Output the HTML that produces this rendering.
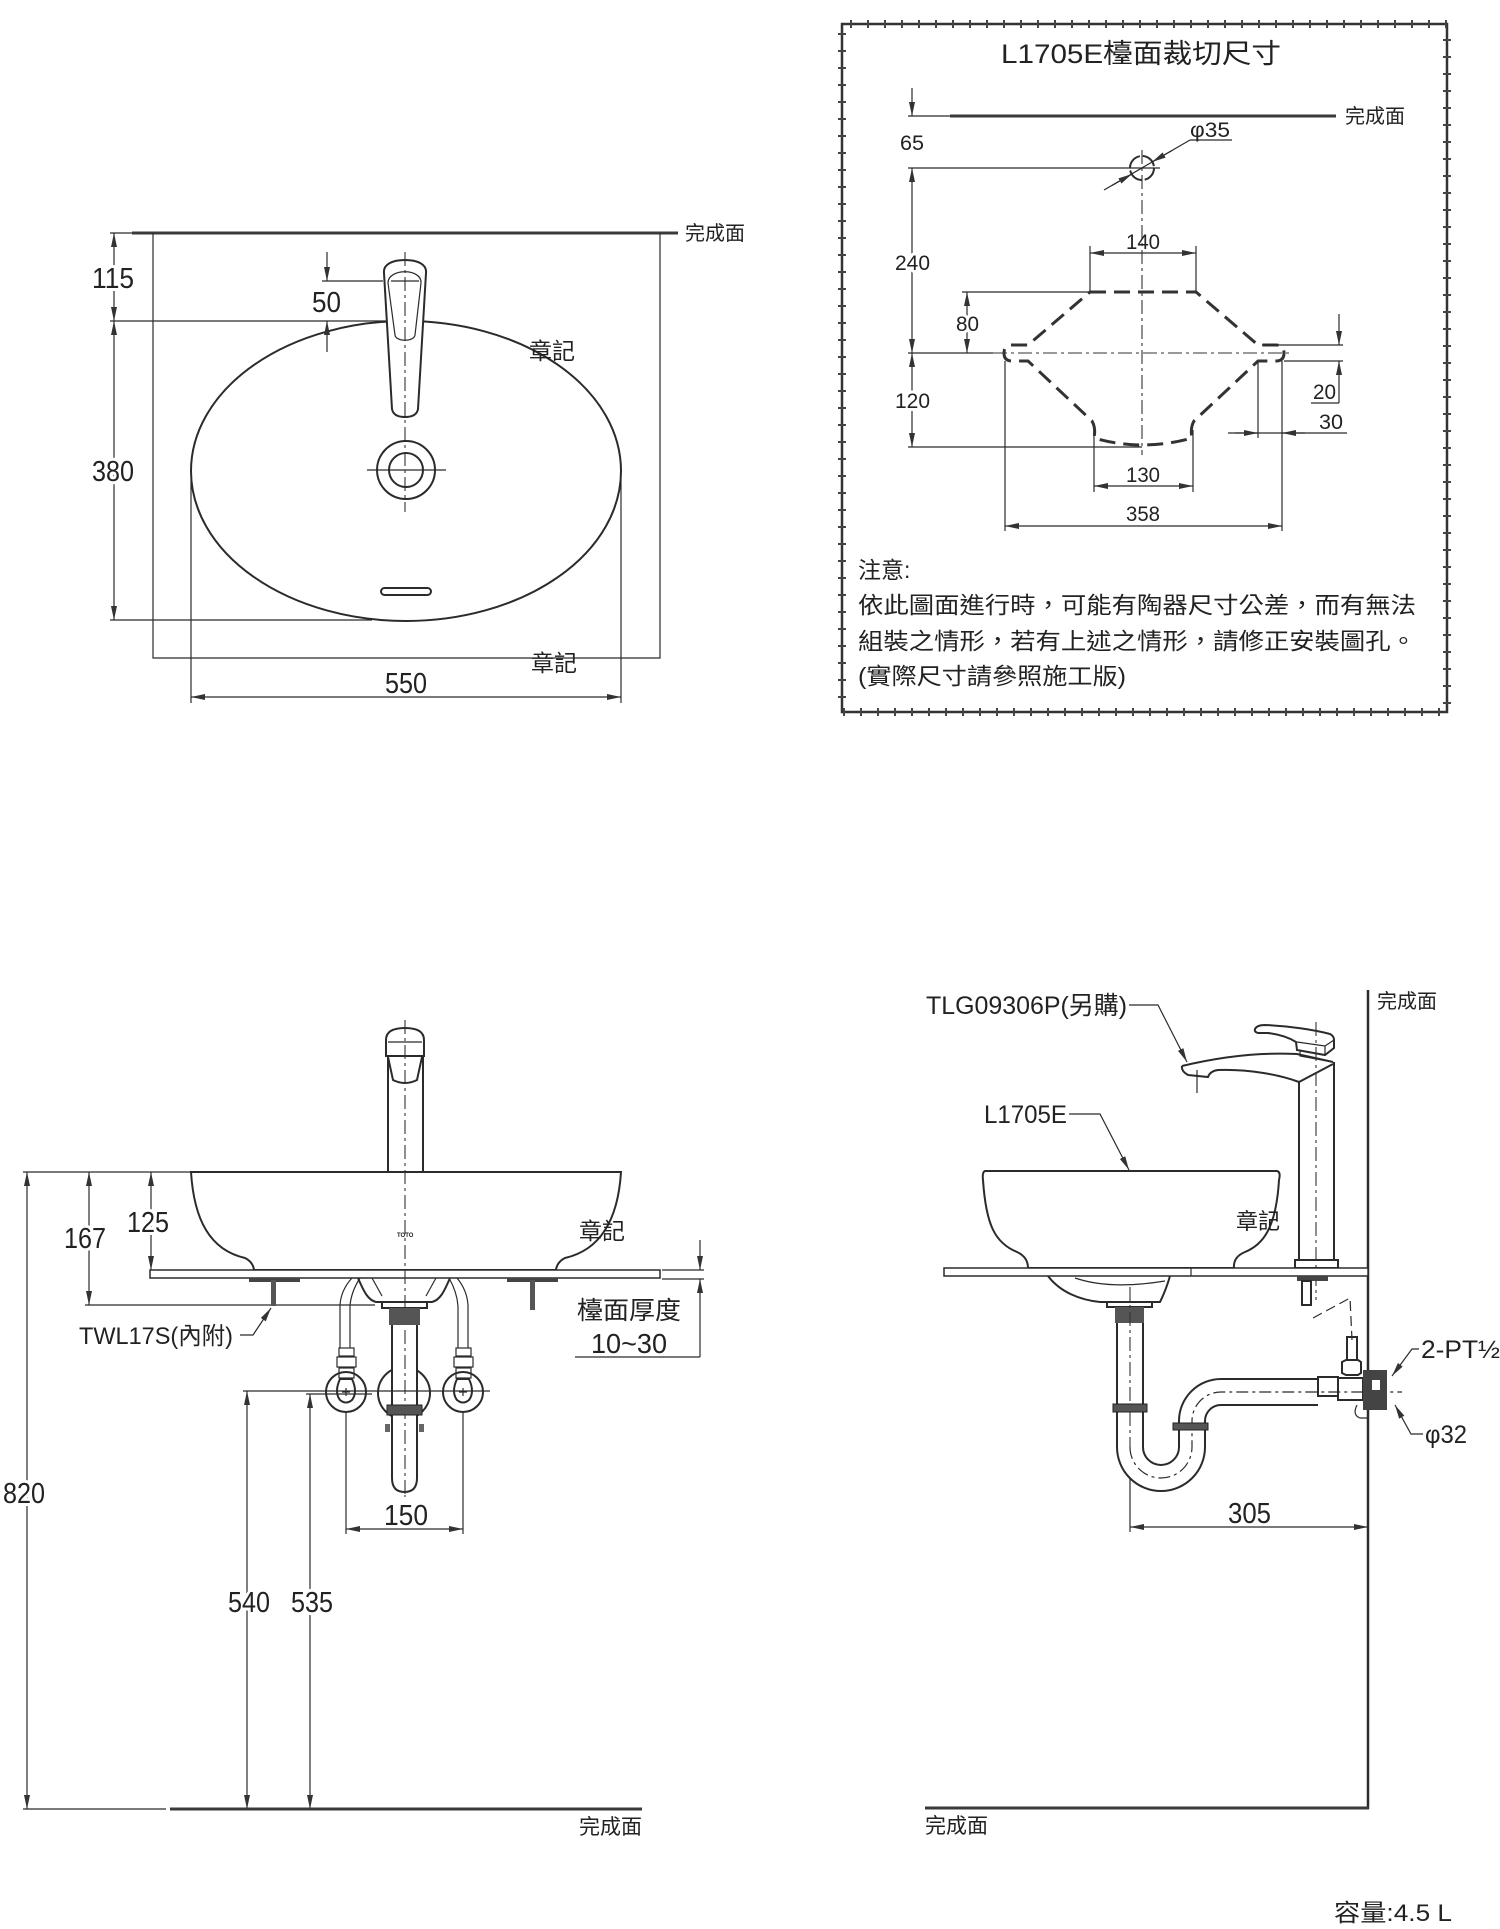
<!DOCTYPE html>
<html><head><meta charset="utf-8">
<style>
html,body{margin:0;padding:0;background:#fff;}
svg{display:block;}
text{font-family:"Liberation Sans","Noto Sans CJK TC",sans-serif;fill:#222;}
.l{stroke:#2b2b2b;fill:none;stroke-width:1.2;}
.m{stroke:#2b2b2b;fill:none;stroke-width:2;}
.t{stroke:#3a3a3a;fill:none;stroke-width:3;}
.c{stroke:#333;fill:none;stroke-width:1.1;stroke-dasharray:14 4 3 4;}
.h{paint-order:stroke;stroke:#fff;stroke-width:6px;stroke-linejoin:round;}
</style></head><body>
<svg width="1500" height="1929" viewBox="0 0 1500 1929" xmlns="http://www.w3.org/2000/svg">
<defs>
<marker id="a" viewBox="0 0 14 6" refX="14" refY="3" markerWidth="14" markerHeight="6" markerUnits="userSpaceOnUse" orient="auto-start-reverse"><path d="M0,0 L14,3 L0,6 Z" fill="#333"/></marker>
</defs>
<rect width="1500" height="1929" fill="#fff"/>

<!-- ============ TOP-LEFT PLAN VIEW ============ -->
<line class="t" x1="132" y1="233" x2="678" y2="233"/>
<text x="685" y="240" font-size="20">完成面</text>
<path class="l" d="M153,233 V658 H660 V233"/>
<line class="l" x1="110" y1="233" x2="132" y2="233"/>
<line class="l" x1="110" y1="321" x2="400" y2="321"/>
<line class="l" x1="110" y1="620" x2="372" y2="620"/>
<line class="l" x1="114" y1="233" x2="114" y2="321" marker-start="url(#a)" marker-end="url(#a)"/>
<line class="l" x1="114" y1="321" x2="114" y2="620" marker-start="url(#a)" marker-end="url(#a)"/>
<text class="h" x="92" y="288" font-size="29" textLength="42" lengthAdjust="spacingAndGlyphs">115</text>
<text class="h" x="92" y="481" font-size="29" textLength="42" lengthAdjust="spacingAndGlyphs">380</text>

<ellipse class="m" cx="406" cy="471" rx="215" ry="150"/>
<line class="l" x1="191" y1="480" x2="191" y2="703"/>
<line class="l" x1="621" y1="480" x2="621" y2="703"/>
<line class="l" x1="191" y1="697" x2="621" y2="697" marker-start="url(#a)" marker-end="url(#a)"/>
<text x="385" y="693" font-size="29" textLength="42" lengthAdjust="spacingAndGlyphs">550</text>
<text x="529" y="359" font-size="23">章記</text>
<text x="531" y="671" font-size="23">章記</text>

<!-- faucet plan -->
<path class="m" fill="#fff" style="fill:#fff" d="M384,273 C383,264 393,260 405,260 C417,260 427,264 426,273 L418,409 C417,415 412,417 405,417 C398,417 393,415 392,409 Z"/>
<path class="l" d="M388,283 C388,268 422,268 421,283 L415,335 C414,342 396,342 395,335 Z"/>
<line class="l" x1="322" y1="281" x2="383" y2="281"/>
<line class="l" x1="391" y1="281" x2="419" y2="281"/>
<line class="c" x1="405" y1="252" x2="405" y2="512"/>
<line class="l" x1="327" y1="252" x2="327" y2="281" marker-end="url(#a)"/>
<line class="l" x1="327" y1="352" x2="327" y2="321" marker-end="url(#a)"/>
<text x="312" y="312" font-size="29" textLength="29" lengthAdjust="spacingAndGlyphs">50</text>
<circle class="m" cx="406" cy="470" r="29"/>
<circle class="m" cx="406" cy="470" r="17"/>
<line class="l" x1="367" y1="470" x2="446" y2="470"/>
<rect class="m" x="381" y="588" width="50" height="7" rx="3.5"/>

<!-- ============ BOX ============ -->
<rect x="842" y="24" width="605" height="688" fill="none" stroke="#333" stroke-width="2.5"/>
<rect x="842" y="24" width="605" height="688" fill="none" stroke="#444" stroke-width="8" stroke-dasharray="2 15" stroke-dashoffset="-8"/>
<text x="1001" y="63" font-size="27" textLength="280" lengthAdjust="spacingAndGlyphs">L1705E檯面裁切尺寸</text>

<line class="t" x1="950" y1="116" x2="1336" y2="116"/>
<line class="l" x1="908" y1="116" x2="950" y2="116"/>
<text x="1345" y="123" font-size="20">完成面</text>

<line class="l" x1="912" y1="88" x2="912" y2="116" marker-end="url(#a)"/>
<text x="900" y="150" font-size="21" textLength="24" lengthAdjust="spacingAndGlyphs">65</text>
<line class="l" x1="912" y1="168" x2="912" y2="353" marker-start="url(#a)" marker-end="url(#a)"/>
<text class="h" x="895" y="270" font-size="21" textLength="35" lengthAdjust="spacingAndGlyphs">240</text>
<line class="l" x1="912" y1="353" x2="912" y2="447" marker-start="url(#a)" marker-end="url(#a)"/>
<text class="h" x="895" y="408" font-size="21" textLength="35" lengthAdjust="spacingAndGlyphs">120</text>
<line class="l" x1="908" y1="168" x2="1160" y2="168"/>
<line class="l" x1="908" y1="353" x2="993" y2="353"/>
<line class="l" x1="908" y1="447" x2="1142" y2="447"/>

<circle class="m" cx="1142" cy="168" r="12" stroke-dasharray="16 3"/>
<line class="c" x1="1142" y1="150" x2="1142" y2="455"/>
<line class="l" x1="1104" y1="190" x2="1190" y2="140"/>
<line class="l" x1="1190" y1="140" x2="1232" y2="140"/>
<line class="l" x1="1112" y1="185.5" x2="1132" y2="174" marker-end="url(#a)"/>
<line class="l" x1="1172" y1="150.5" x2="1152" y2="162" marker-end="url(#a)"/>
<text x="1190" y="137" font-size="21" textLength="40" lengthAdjust="spacingAndGlyphs">φ35</text>

<line class="l" x1="1090" y1="253" x2="1196" y2="253" marker-start="url(#a)" marker-end="url(#a)"/>
<line class="l" x1="1090" y1="246" x2="1090" y2="292"/>
<line class="l" x1="1196" y1="246" x2="1196" y2="292"/>
<text x="1126" y="249" font-size="21" textLength="34" lengthAdjust="spacingAndGlyphs">140</text>

<path d="M1090,292 L1196,292 L1258,345 L1276,345 Q1284,345 1284,353 Q1284,361 1276,361 L1258,361 L1194,421 Q1190,428 1192,438 Q1142,452 1094,438 Q1096,428 1092,421 L1028,361 L1012,361 Q1004,361 1004,353 Q1004,345 1012,345 L1028,345 Z" fill="none" stroke="#333" stroke-width="3" stroke-dasharray="16 8"/>
<line class="c" x1="993" y1="353" x2="1290" y2="353"/>

<line class="l" x1="962" y1="292" x2="1090" y2="292"/>
<line class="l" x1="967" y1="292" x2="967" y2="353" marker-start="url(#a)" marker-end="url(#a)"/>
<text class="h" x="956" y="331" font-size="21" textLength="23" lengthAdjust="spacingAndGlyphs">80</text>

<line class="l" x1="1262" y1="345" x2="1343" y2="345"/>
<line class="l" x1="1284" y1="361" x2="1343" y2="361"/>
<line class="l" x1="1339" y1="314" x2="1339" y2="345" marker-end="url(#a)"/>
<line class="l" x1="1339" y1="403" x2="1339" y2="361" marker-end="url(#a)"/>
<line class="l" x1="1311" y1="403" x2="1339" y2="403"/>
<text x="1313" y="399" font-size="21" textLength="23" lengthAdjust="spacingAndGlyphs">20</text>

<line class="l" x1="1228" y1="433" x2="1347" y2="433"/>
<line class="l" x1="1235" y1="433" x2="1258" y2="433" marker-end="url(#a)"/>
<line class="l" x1="1305" y1="433" x2="1282" y2="433" marker-end="url(#a)"/>
<text x="1319" y="429" font-size="21" textLength="24" lengthAdjust="spacingAndGlyphs">30</text>
<line class="l" x1="1258" y1="361" x2="1258" y2="438"/>
<line class="l" x1="1282" y1="361" x2="1282" y2="531"/>
<line class="l" x1="1005" y1="361" x2="1005" y2="531"/>

<line class="l" x1="1094" y1="430" x2="1094" y2="492"/>
<line class="l" x1="1193" y1="430" x2="1193" y2="492"/>
<line class="l" x1="1094" y1="486" x2="1193" y2="486" marker-start="url(#a)" marker-end="url(#a)"/>
<text x="1126" y="482" font-size="21" textLength="34" lengthAdjust="spacingAndGlyphs">130</text>
<line class="l" x1="1005" y1="526" x2="1282" y2="526" marker-start="url(#a)" marker-end="url(#a)"/>
<text x="1126" y="521" font-size="21" textLength="34" lengthAdjust="spacingAndGlyphs">358</text>

<text x="858" y="578" font-size="23">注意:</text>
<text x="858" y="613" font-size="23" textLength="558" lengthAdjust="spacingAndGlyphs">依此圖面進行時，可能有陶器尺寸公差，而有無法</text>
<text x="858" y="649" font-size="23" textLength="558" lengthAdjust="spacingAndGlyphs">組裝之情形，若有上述之情形，請修正安裝圖孔。</text>
<text x="858" y="684" font-size="23" textLength="268" lengthAdjust="spacingAndGlyphs">(實際尺寸請參照施工版)</text>

<!-- ============ BOTTOM-LEFT FRONT VIEW ============ -->
<path class="m" d="M386,1056 L386,1040 Q386,1028 405,1028 Q424,1028 424,1040 L424,1056 Z"/>
<line class="l" x1="388" y1="1042" x2="422" y2="1042"/>
<path class="m" d="M388,1057 L393,1080 Q405,1086 417,1080 L422,1057"/>
<line class="m" x1="388" y1="1056" x2="388" y2="1172"/>
<line class="m" x1="423" y1="1056" x2="423" y2="1172"/>

<path class="m" style="fill:#fff" d="M191,1172 L621,1172 C618,1220 600,1250 565,1258 Q557,1262 556,1270 L254,1270 Q253,1262 245,1258 C210,1250 194,1220 191,1172 Z"/>
<rect x="150" y="1270" width="510" height="8" fill="#fff" stroke="#2b2b2b" stroke-width="1.5"/>
<line class="l" x1="662" y1="1270" x2="704" y2="1270"/>
<line class="l" x1="662" y1="1279" x2="704" y2="1279"/>
<text x="397" y="1237" font-size="6" font-weight="bold">TOTO</text>
<text x="579" y="1239" font-size="23">章記</text>

<line class="c" x1="405" y1="1020" x2="405" y2="1497"/>

<line class="l" x1="23" y1="1172" x2="191" y2="1172"/>
<line class="l" x1="27" y1="1172" x2="27" y2="1809" marker-start="url(#a)" marker-end="url(#a)"/>
<text class="h" x="3" y="1503" font-size="29" textLength="42" lengthAdjust="spacingAndGlyphs">820</text>
<line class="l" x1="89" y1="1172" x2="89" y2="1305" marker-start="url(#a)" marker-end="url(#a)"/>
<text class="h" x="64" y="1248" font-size="29" textLength="42" lengthAdjust="spacingAndGlyphs">167</text>
<line class="l" x1="151" y1="1172" x2="151" y2="1270" marker-start="url(#a)" marker-end="url(#a)"/>
<text class="h" x="127" y="1232" font-size="29" textLength="42" lengthAdjust="spacingAndGlyphs">125</text>
<line class="l" x1="85" y1="1305" x2="375" y2="1305"/>

<!-- drain -->
<path class="m" d="M358,1278 C364,1292 368,1300 376,1302 L432,1302 C440,1300 444,1292 450,1278"/>
<path class="l" d="M372,1278 L382,1296 M436,1278 L426,1296"/>
<rect class="m" x="382" y="1302" width="45" height="6"/>
<rect x="389" y="1308" width="31" height="17" fill="#555"/>
<circle class="m" cx="404" cy="1393" r="26"/>
<path class="m" style="fill:#fff" d="M392,1325 L392,1478 Q392,1492 404.5,1492 Q417,1492 417,1478 L417,1325"/>
<line class="c" x1="405" y1="1330" x2="405" y2="1497"/>
<rect x="387" y="1405" width="35" height="10" fill="#555" stroke="#222"/>
<rect x="385" y="1424" width="5" height="8" fill="#666"/>
<rect x="419" y="1424" width="5" height="8" fill="#666"/>

<!-- valves -->
<g>
<path class="l" d="M340,1348 L340,1305 Q341,1290 352,1278 M350,1348 L350,1306 Q351,1292 360,1278"/>
<circle class="m" cx="346" cy="1392" r="20"/>
<rect class="l" x="339" y="1348" width="15" height="8"/>
<rect class="l" x="337" y="1357" width="19" height="10"/>
<rect class="l" x="339" y="1368" width="15" height="10"/>
<path class="m" d="M340,1379 L352,1379 Q358,1392 352,1400 Q346,1405 340,1400 Q334,1392 340,1379 Z"/>
<path class="l" d="M346,1388 V1396 M342,1392 H350"/>
</g>
<g>
<path class="l" d="M468,1348 L468,1305 Q467,1290 457,1278 M458,1348 L458,1306 Q457,1292 449,1278"/>
<circle class="m" cx="463" cy="1392" r="20"/>
<rect class="l" x="456" y="1348" width="15" height="8"/>
<rect class="l" x="454" y="1357" width="19" height="10"/>
<rect class="l" x="456" y="1368" width="15" height="10"/>
<path class="m" d="M457,1379 L469,1379 Q475,1392 469,1400 Q463,1405 457,1400 Q451,1392 457,1379 Z"/>
<path class="l" d="M463,1388 V1396 M459,1392 H467"/>
</g>
<line class="l" x1="243" y1="1391" x2="490" y2="1391"/>
<line class="l" x1="306" y1="1394" x2="372" y2="1394"/>

<!-- bolts -->
<rect x="249" y="1278" width="51" height="4" fill="#444"/>
<rect x="271" y="1280" width="5" height="26" fill="#555"/>
<rect x="507" y="1278" width="51" height="4" fill="#444"/>
<rect x="530" y="1280" width="5" height="30" fill="#555"/>
<path class="l" d="M240,1335 H253 L271,1308" marker-end="url(#a)"/>
<text x="79" y="1344" font-size="24" textLength="154" lengthAdjust="spacingAndGlyphs">TWL17S(內附)</text>

<text x="577" y="1319" font-size="25" textLength="104" lengthAdjust="spacingAndGlyphs">檯面厚度</text>
<text x="591" y="1353" font-size="28" textLength="76" lengthAdjust="spacingAndGlyphs">10~30</text>
<line class="l" x1="575" y1="1357" x2="700" y2="1357"/>
<line class="l" x1="700" y1="1240" x2="700" y2="1270" marker-end="url(#a)"/>
<line class="l" x1="700" y1="1357" x2="700" y2="1279" marker-end="url(#a)"/>

<line class="l" x1="247" y1="1391" x2="247" y2="1809" marker-start="url(#a)" marker-end="url(#a)"/>
<text class="h" x="228" y="1612" font-size="29" textLength="42" lengthAdjust="spacingAndGlyphs">540</text>
<line class="l" x1="310" y1="1394" x2="310" y2="1809" marker-start="url(#a)" marker-end="url(#a)"/>
<text class="h" x="291" y="1612" font-size="29" textLength="42" lengthAdjust="spacingAndGlyphs">535</text>
<line class="l" x1="346" y1="1412" x2="346" y2="1534"/>
<line class="l" x1="463" y1="1412" x2="463" y2="1534"/>
<line class="l" x1="346" y1="1529" x2="463" y2="1529" marker-start="url(#a)" marker-end="url(#a)"/>
<text x="384" y="1525" font-size="29" textLength="44" lengthAdjust="spacingAndGlyphs">150</text>

<line class="l" x1="23" y1="1809" x2="166" y2="1809"/>
<line class="t" x1="170" y1="1809" x2="642" y2="1809"/>
<text x="579" y="1834" font-size="21">完成面</text>

<!-- ============ SIDE VIEW ============ -->
<text x="926" y="1014" font-size="25" textLength="201" lengthAdjust="spacingAndGlyphs">TLG09306P(另購)</text>
<path class="l" d="M1129,1005 H1158 L1187,1062" marker-end="url(#a)"/>
<text x="1377" y="1008" font-size="20">完成面</text>
<line x1="1368" y1="990" x2="1368" y2="1809" stroke="#2b2b2b" stroke-width="2.5"/>
<line class="t" x1="925" y1="1808" x2="1369" y2="1808"/>
<text x="925" y="1833" font-size="21">完成面</text>

<text x="984" y="1123" font-size="25" textLength="83" lengthAdjust="spacingAndGlyphs">L1705E</text>
<path class="l" d="M1069,1114 H1100 L1129,1170" marker-end="url(#a)"/>

<!-- faucet side -->
<path class="m" d="M1299,1260 L1299,1082 M1334,1062 L1334,1260"/>
<path class="m" d="M1182,1066 C1215,1058 1255,1052 1297,1054 L1333,1062"/>
<path class="m" d="M1182,1066 Q1181,1071 1188,1075 L1208,1077 Q1210,1071 1218,1070 C1250,1069 1280,1075 1299,1082 L1333,1064"/>
<path class="m" d="M1255,1029 Q1257,1025 1265,1025 C1290,1026 1315,1030 1330,1034 Q1334,1036 1334,1040 L1334,1048 L1325,1055 L1297,1050 L1296,1042 Q1285,1035 1268,1033 L1258,1033 Q1254,1032 1255,1029 Z"/>
<path class="l" d="M1297,1042 L1325,1046 L1334,1040 M1325,1046 L1325,1055 M1300,1051 L1300,1056 L1333,1062"/>
<line class="c" x1="1316" y1="1022" x2="1316" y2="1300"/>
<line class="l" x1="1197" y1="1070" x2="1197" y2="1093"/>
<rect class="m" x="1295" y="1260" width="43" height="8"/>

<path class="m" style="fill:#fff" d="M985,1171 L1277,1171 Q1281,1172 1279,1180 C1276,1230 1262,1245 1245,1252 Q1233,1257 1234,1268 L1028,1268 Q1028,1257 1017,1252 C995,1243 986,1225 983,1180 Q982,1172 985,1171 Z"/>
<text x="1236" y="1229" font-size="22">章記</text>
<rect x="944" y="1268" width="424" height="8" fill="#fff" stroke="#2b2b2b" stroke-width="1.5"/>
<line class="l" x1="1191" y1="1268" x2="1191" y2="1276"/>

<rect x="1297" y="1276" width="31" height="5" fill="#444"/>
<rect class="m" x="1302" y="1281" width="9" height="24"/>
<path class="l" stroke-dasharray="10 5" d="M1313,1318 L1350,1298 L1352,1340"/>

<!-- drain & trap -->
<path class="m" d="M1048,1276 C1060,1292 1080,1300 1100,1302 L1160,1302 Q1166,1290 1170,1276"/>
<path class="l" d="M1075,1278 Q1110,1290 1165,1281"/>
<rect class="m" x="1107" y="1302" width="45" height="5"/>
<rect x="1115" y="1307" width="29" height="16" fill="#555"/>
<path class="m" d="M1117,1323 L1117,1447 A44,44 0 0 0 1205,1447 L1205,1421 A16,16 0 0 1 1221,1405 L1318,1405"/>
<path class="m" d="M1143,1323 L1143,1447 A18,18 0 0 0 1179,1447 L1179,1421 A42,42 0 0 1 1221,1379 L1318,1379"/>
<path class="l" stroke-dasharray="12 4 3 4" d="M1130,1447 A31,31 0 0 0 1192,1447 L1192,1421 A29,29 0 0 1 1221,1392 L1402,1392"/>
<line class="c" x1="1130" y1="1287" x2="1130" y2="1447"/>
<line class="l" x1="1130" y1="1478" x2="1130" y2="1532"/>
<rect x="1113" y="1404" width="34" height="8" fill="#555" stroke="#222"/>
<rect x="1173" y="1423" width="35" height="7" fill="#555" stroke="#222"/>

<rect class="m" x="1318" y="1377" width="20" height="19"/>
<rect class="m" x="1338" y="1378" width="25" height="22"/>
<rect class="m" x="1347" y="1337" width="10" height="23"/>
<path class="m" d="M1342,1362 L1346,1360 L1358,1360 L1361,1362 L1361,1373 L1358,1375 L1346,1375 L1342,1373 Z"/>
<rect x="1363" y="1370" width="24" height="40" fill="#444"/>
<rect x="1372" y="1380" width="8" height="10" fill="#fff"/>
<path class="l" d="M1357,1405 Q1352,1415 1360,1418 L1368,1418"/>

<line class="l" x1="1130" y1="1527" x2="1368" y2="1527" marker-start="url(#a)" marker-end="url(#a)"/>
<text x="1228" y="1523" font-size="29" textLength="43" lengthAdjust="spacingAndGlyphs">305</text>

<text x="1421" y="1358" font-size="25" textLength="79" lengthAdjust="spacingAndGlyphs">2-PT½</text>
<path class="l" d="M1419,1349 H1412 L1392,1376" marker-end="url(#a)"/>
<text x="1425" y="1443" font-size="25" textLength="42" lengthAdjust="spacingAndGlyphs">φ32</text>
<path class="l" d="M1423,1434 H1411 L1395,1405" marker-end="url(#a)"/>

<text x="1334" y="1921" font-size="24" textLength="118" lengthAdjust="spacingAndGlyphs">容量:4.5 L</text>
</svg>
</body></html>
